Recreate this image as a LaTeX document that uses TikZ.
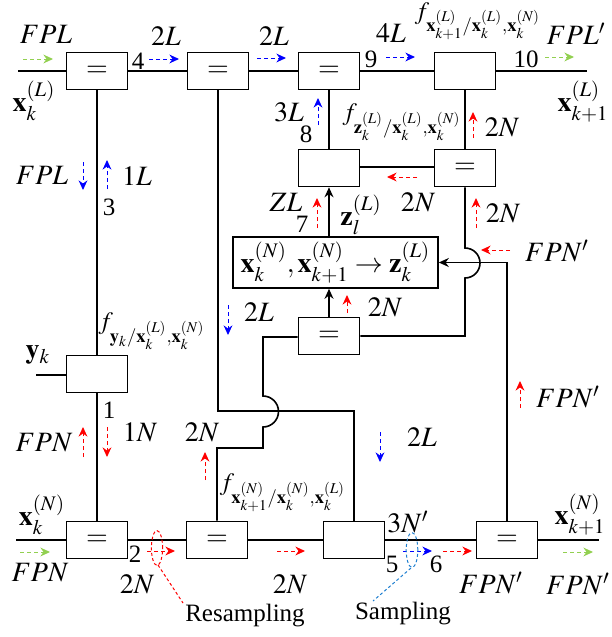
\documentclass[tikz,border=0pt]{standalone}
\usepackage{amsmath}
\usepackage{mathptmx}
\usepackage{fontspec}
\setmainfont{Liberation Serif}
\usetikzlibrary{arrows.meta, calc, positioning}
\definecolor{msgGreen}{HTML}{92D050}
\definecolor{msgBlue}{HTML}{0000FF}
\definecolor{msgRed}{HTML}{FF0000}
\definecolor{smpBlue}{HTML}{1F7FD0}
\tikzset{
  wire/.style       = {line width=0.8pt, black},
  fbox/.style       = {draw, line width=0.8pt, minimum width=30.5pt,
                       minimum height=18.5pt, inner sep=0pt},
  eqbox/.style      = {fbox, font=\fontsize{14}{16}\selectfont},
  mapbox/.style     = {fbox, minimum width=102.5pt, minimum height=25.5pt},
  lbl/.style        = {inner sep=0pt, font=\fontsize{14}{16}\selectfont},
  flbl/.style       = {inner sep=0pt, font=\fontsize{12.5}{15}\selectfont},
  num/.style        = {inner sep=0pt, font=\fontsize{12.5}{15}\selectfont},
  msg/.style        = {dashed, dash pattern=on 2pt off 1.5pt, line width=0.5pt,
                       -{Stealth[length=4.8pt, width=4.4pt]}},
  msgL/.style       = {msg, msgBlue},
  msgN/.style       = {msg, msgRed},
  msgF/.style       = {msg, msgGreen},
  callout/.style    = {dashed, dash pattern=on 1.5pt off 1.2pt, line width=0.5pt},
}

\begin{document}
\begin{tikzpicture}[x=0.5pt, y=-0.5pt]
  \useasboundingbox (0,0) rectangle (611,637);

  % factor nodes
  \node[eqbox] (eqA)  at (97,71)  {$=$};
  \node[eqbox] (eqB)  at (218,71) {$=$};
  \node[eqbox] (eqC)  at (329,71) {$=$};
  \node[fbox]  (fXL)  at (465,71) {};
  \node[fbox]  (fZ)   at (329,168) {};
  \node[eqbox] (eqF)  at (465,168) {$=$};
  \node[mapbox, lbl] (mapG) at (335.5,262.5)
    {$\mathbf{x}_k^{(N)},\mathbf{x}_{k+1}^{(N)} \rightarrow \mathbf{z}_k^{(L)}$};
  \node[eqbox] (eqH)  at (329,336) {$=$};
  \node[fbox]  (fY)   at (97,374) {};
  \node[eqbox] (eqA2) at (97,540) {$=$};
  \node[eqbox] (eqB2) at (217,540) {$=$};
  \node[fbox]  (fXN)  at (354,540) {};
  \node[eqbox] (eqD2) at (507,540) {$=$};

  \coordinate (inL)  at (18,71);
  \coordinate (outL) at (587,71);
  \coordinate (inY)  at (36,375);
  \coordinate (inN)  at (16,540);
  \coordinate (outN) at (599,540);

  % edges
  \draw[wire] (inL) -- (eqA.west);
  \draw[wire] (eqA.east) -- (eqB.west);
  \draw[wire] (eqB.east) -- (eqC.west);
  \draw[wire] (eqC.east) -- (fXL.west);
  \draw[wire] (fXL.east) -- (outL);
  \draw[wire] (eqA.south) -- (fY.north);
  \draw[wire] (fY.south) -- (eqA2.north);
  \draw[wire] (inY) -- (fY.west |- inY);
  \draw[wire] (eqC.south) -- (fZ.north);
  \draw[wire] (fXL.south) -- (eqF.north);
  \draw[wire] (fZ.east |- 0,167) -- (eqF.west |- 0,167);
  \draw[wire, -{Stealth[length=5pt, width=4.5pt]}] (fZ.south |- mapG.north) -- (fZ.south);
  \draw[wire, -{Stealth[length=5pt, width=4.5pt]}] (eqH.north) -- (eqH.north |- mapG.south);
  \draw[wire, -{Stealth[length=5pt, width=4.5pt]}] (eqD2.north) |- (mapG.east);
  \draw[wire] (eqF.south) -- (465,248) arc[start angle=90, end angle=-90, radius=7.5pt]
    -- (465,336) -- (eqH.east |- 0,336);
  \draw[wire] (eqB.south) -- (218,411) -| (fXN.north);
  \draw[wire] (eqH.west |- 0,337) -| (263,396) arc[start angle=90, end angle=-90, radius=7.75pt]
    -- (263,448) -| (eqB2.north);
  \draw[wire] (inN) -- (eqA2.west);
  \draw[wire] (eqA2.east) -- (eqB2.west);
  \draw[wire] (eqB2.east) -- (fXN.west);
  \draw[wire] (fXN.east) -- (eqD2.west);
  \draw[wire] (eqD2.east) -- (outN);

  % messages
  \draw[msgF] (23,59) -- (53,59);
  \draw[msgF] (545,57) -- (574,57);
  \draw[msgF] (20,552) -- (50,552);
  \draw[msgF] (563,552) -- (593,552);

  \draw[msgL] (149,59) -- (179,59);
  \draw[msgL] (257,58) -- (286,58);
  \draw[msgL] (386,57) -- (415,57);
  \draw[msgL] (318,125) -- (318,98);
  \draw[msgL] (83,162) -- (83,190);
  \draw[msgL] (107,189) -- (107,160);
  \draw[msgL] (228,305) -- (228,335);
  \draw[msgL] (380,432) -- (380,462);
  \draw[msgL] (403,551) -- (432,551);

  \draw[msgN] (473,138) -- (473,112);
  \draw[msgN] (417,177) -- (387,177);
  \draw[msgN] (476,228) -- (476,198);
  \draw[msgN] (510,250) -- (481,250);
  \draw[msgN] (317,228) -- (317,198);
  \draw[msgN] (347,313) -- (347,295);
  \draw[msgN] (520,408) -- (520,381);
  \draw[msgN] (107,427) -- (107,457);
  \draw[msgN] (83,457) -- (83,427);
  \draw[msgN] (147,551) -- (175,551);
  \draw[msgN] (205,480) -- (205,452);
  \draw[msgN] (277,551) -- (305,551);
  \draw[msgN] (443,551) -- (472,551);

  % resampling / sampling
  \draw[callout, msgRed] (157,548) ellipse[x radius=2.8pt, y radius=8.7pt];
  \draw[callout, msgRed] (158,565) -- (183,603);
  \draw[callout, smpBlue] (412,550) ellipse[x radius=2.9pt, y radius=8.7pt];
  \draw[callout, smpBlue] (411,568) -- (373,601);

  % labels
  \node[lbl] (lFPLin)  at (46,34)   {$FPL$};
  \node[lbl] (lxLin)   at (34,101)  {$\mathbf{x}_k^{(L)}$};
  \node[num] (n4)      at (138,61)  {4};
  \node[lbl] (l2La)    at (166,36)  {$2L$};
  \node[lbl] (l2Lb)    at (274,36)  {$2L$};
  \node[lbl] (l3L)     at (289,112) {$3L$};
  \node[num] (n8)      at (306,134) {8};
  \node[num] (n9)      at (371,59)  {9};
  \node[lbl] (l4L)     at (391,33)  {$4L$};
  \node[flbl, anchor=north] (lfXL) at (478,2)
    {$f_{\mathbf{x}_{k+1}^{(L)}/\mathbf{x}_k^{(L)},\mathbf{x}_k^{(N)}}$};
  \node[num] (n10)     at (526,59)  {10};
  \node[lbl] (lFPLout) at (576,34)  {$FPL'$};
  \node[lbl] (lxLout)  at (583,102) {$\mathbf{x}_{k+1}^{(L)}$};
  \node[lbl] (l2Na)    at (502,127) {$2N$};
  \node[flbl] (lfZ)    at (402,122)
    {$f_{\mathbf{z}_k^{(L)}/\mathbf{x}_k^{(L)},\mathbf{x}_k^{(N)}}$};
  \node[lbl] (l2Nb)    at (418,202) {$2N$};
  \node[lbl] (l2Nc)    at (503,213) {$2N$};
  \node[lbl] (lFPNa)   at (557,251) {$FPN'$};
  \node[lbl] (lZL)     at (286,202) {$ZL$};
  \node[num] (n7)      at (302,224) {7};
  \node[lbl] (lzl)     at (361,215) {$\mathbf{z}_l^{(L)}$};
  \node[lbl] (l2Nd)    at (385,307) {$2N$};
  \node[lbl] (l2Lc)    at (259,312) {$2L$};
  \node[lbl] (lFPNb)   at (568,397) {$FPN'$};
  \node[lbl] (lFPLlf)  at (42,175)  {$FPL$};
  \node[lbl] (l1L)     at (137,176) {$1L$};
  \node[num] (n3)      at (109,207) {3};
  \node[flbl] (lfY)    at (152,331)
    {$f_{\mathbf{y}_k/\mathbf{x}_k^{(L)},\mathbf{x}_k^{(N)}}$};
  \node[lbl] (lyk)     at (38,355)  {$\mathbf{y}_k$};
  \node[num] (n1)      at (109,410) {1};
  \node[lbl] (l1N)     at (140,432) {$1N$};
  \node[lbl] (lFPNc)   at (44,443)  {$FPN$};
  \node[lbl] (lxNin)   at (42,515)  {$\mathbf{x}_k^{(N)}$};
  \node[lbl] (lFPNin)  at (40,573)  {$FPN$};
  \node[num] (n2)      at (135,554) {2};
  \node[lbl] (l2Ne)    at (137,584) {$2N$};
  \node[lbl] (l2Nf)    at (202,432) {$2N$};
  \node[flbl] (lfXN)   at (283,493)
    {$f_{\mathbf{x}_{k+1}^{(N)}/\mathbf{x}_k^{(N)},\mathbf{x}_k^{(L)}}$};
  \node[lbl] (l2Ng)    at (290,584) {$2N$};
  \node[lbl] (l2Ld)    at (422,437) {$2L$};
  \node[lbl] (l3N)     at (408,522) {$3N'$};
  \node[num] (n5)      at (392,564) {5};
  \node[num] (n6)      at (436,564) {6};
  \node[lbl] (lFPNd)   at (491,583) {$FPN'$};
  \node[lbl] (lxNout)  at (580,515) {$\mathbf{x}_{k+1}^{(N)}$};
  \node[lbl] (lFPNout) at (578,584) {$FPN'$};
  \node[num] (lResamp) at (245,616) {Resampling};
  \node[num] (lSamp)   at (403,614) {Sampling};
\end{tikzpicture}
\end{document}
